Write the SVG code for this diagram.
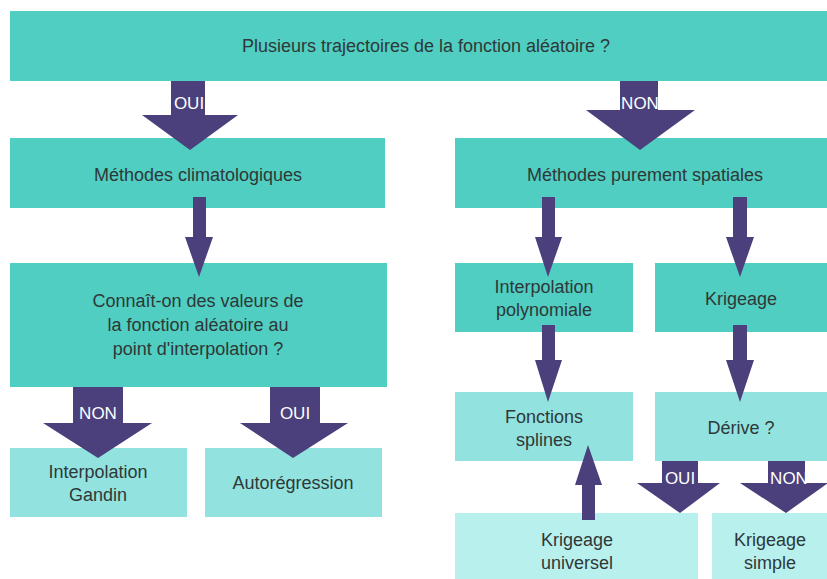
<svg xmlns="http://www.w3.org/2000/svg" width="827" height="579" viewBox="0 0 827 579">
<style>
.b1{fill:#50cec1}
.b2{fill:#92e3df}
.b3{fill:#b8f0ee}
.t{font-family:"Liberation Sans",Arial,sans-serif;font-size:18px;fill:#2e3838;text-anchor:middle}
.a{fill:#4b3f7c}
.l{font-family:"Liberation Sans",Arial,sans-serif;font-size:17px;fill:#ffffff;text-anchor:middle}
</style>
<rect width="827" height="579" fill="#ffffff"/>
<g id="n-top"><rect class="b1" x="10" y="11" width="817" height="70"/><text class="t" x="426" y="52">Plusieurs trajectoires de la fonction aléatoire ?</text></g>
<g id="n-clim"><rect class="b1" x="10" y="138" width="375" height="70"/><text class="t" x="198" y="181">Méthodes climatologiques</text></g>
<g id="n-spat"><rect class="b1" x="455" y="138" width="372" height="70"/><text class="t" x="645" y="181">Méthodes purement spatiales</text></g>
<g id="n-conn"><rect class="b1" x="10" y="263" width="377" height="124"/><text class="t" x="198" y="307">Connaît-on des valeurs de</text><text class="t" x="198" y="331">la fonction aléatoire au</text><text class="t" x="198" y="355">point d'interpolation ?</text></g>
<g id="n-poly"><rect class="b1" x="455" y="263" width="178" height="69"/><text class="t" x="544" y="293">Interpolation</text><text class="t" x="544" y="316">polynomiale</text></g>
<g id="n-krig"><rect class="b1" x="655" y="263" width="172" height="69"/><text class="t" x="741" y="305">Krigeage</text></g>
<g id="n-spl"><rect class="b2" x="455" y="392" width="178" height="69"/><text class="t" x="544" y="423">Fonctions</text><text class="t" x="544" y="446">splines</text></g>
<g id="n-der"><rect class="b2" x="655" y="392" width="172" height="69"/><text class="t" x="741" y="434">Dérive ?</text></g>
<g id="n-gand"><rect class="b2" x="10" y="448" width="177" height="69"/><text class="t" x="98" y="478">Interpolation</text><text class="t" x="98" y="501">Gandin</text></g>
<g id="n-auto"><rect class="b2" x="205" y="448" width="177" height="69"/><text class="t" x="293" y="489">Autorégression</text></g>
<g id="n-univ"><rect class="b3" x="455" y="513" width="243" height="66"/><text class="t" x="577" y="546">Krigeage</text><text class="t" x="577" y="569">universel</text></g>
<g id="n-simp"><rect class="b3" x="712" y="513" width="115" height="66"/><text class="t" x="770" y="546">Krigeage</text><text class="t" x="770" y="569">simple</text></g>
<g id="connectors">
<polygon class="a" points="171,81 205,81 205,115 238,115 190,150 142,115 171,115"/>
<text class="l" x="189" y="109">OUI</text>
<polygon class="a" points="620,81 658,81 658,110 695,110 640,150 586,110 620,110"/>
<text class="l" x="640" y="109">NON</text>
<polygon class="a" points="193,197 206,197 206,237 213,237 199,277 185,237 193,237"/>
<polygon class="a" points="542,197 555,197 555,237 562,237 548,277 535,237 542,237"/>
<polygon class="a" points="733,197 747,197 747,237 754,237 740,277 726,237 733,237"/>
<polygon class="a" points="542,325 555,325 555,360 562,360 548,402 535,360 542,360"/>
<polygon class="a" points="733,325 747,325 747,360 754,360 740,402 726,360 733,360"/>
<polygon class="a" points="73,387 123,387 123,423 152,423 98,458 43,423 73,423"/>
<text class="l" x="98" y="419">NON</text>
<polygon class="a" points="270,387 320,387 320,423 348,423 293,458 240,423 270,423"/>
<text class="l" x="295" y="419">OUI</text>
<polygon class="a" points="582,520 595,520 595,485 602,485 588,445 575,485 582,485"/>
<polygon class="a" points="662,461 698,461 698,483 720,483 680,513 637,483 662,483"/>
<text class="l" x="680" y="484">OUI</text>
<polygon class="a" points="768,461 805,461 805,483 828,483 786,513 740,483 768,483"/>
<text class="l" x="789" y="484">NON</text>
</g>
</svg>
